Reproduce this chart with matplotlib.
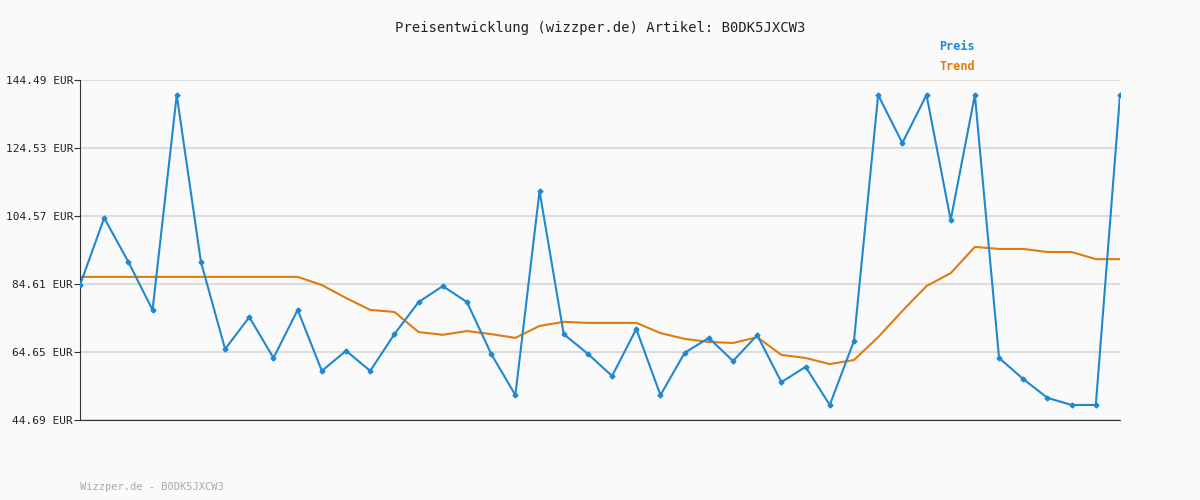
import matplotlib
matplotlib.use("Agg")
import matplotlib.pyplot as plt

# price history
preis = [84.3, 104.0, 91.1, 77.0, 140.1, 91.1, 65.5, 74.9, 62.9, 77.0,
         59.1, 65.0, 59.1, 69.9, 79.3, 84.0, 79.3, 64.1, 52.0, 111.9,
         69.9, 64.1, 57.6, 71.4, 52.0, 64.4, 68.8, 62.0, 69.6, 55.8,
         60.3, 49.1, 67.9, 140.1, 126.0, 140.1, 103.4, 140.1, 62.9, 56.7,
         51.2, 49.1, 49.1, 140.1]
trend = [86.7] * 10 + [84.3, 80.5, 77.0, 76.4, 70.5, 69.7, 70.8, 69.9, 68.8, 72.3,
                       73.5, 73.2, 73.2, 73.2, 70.2, 68.5, 67.6, 67.3, 69.0, 63.8,
                       62.9, 61.1, 62.3, 69.0, 76.7, 84.0, 87.8, 95.5, 94.9, 94.9,
                       94.0, 94.0, 91.9, 91.9]
yticks = [44.69, 64.65, 84.61, 104.57, 124.53, 144.49]

BG = "#fafafa"
BLUE = "#1f88cf"
ORANGE = "#e07b10"
plt.rcParams["font.family"] = "DejaVu Sans Mono"

fig = plt.figure(figsize=(12, 5), dpi=100, facecolor=BG)
ax = fig.add_axes([80 / 1200, 80 / 500, 1040 / 1200, 340 / 500], facecolor=BG)

x = list(range(len(preis)))
ax.plot(x, trend, color=ORANGE, linewidth=1.5, zorder=2)
ax.plot(x, preis, color=BLUE, linewidth=1.5, marker="D", markersize=2.5, zorder=3)

ax.set_xlim(0, len(preis) - 1)
ax.set_ylim(yticks[0], yticks[-1])
ax.set_yticks(yticks)
ax.set_yticklabels([f"{v:.2f} EUR" for v in yticks], fontsize=8, color="#222222")
ax.set_xticks([])
ax.grid(axis="y", color="#dddddd", linewidth=1.5)
ax.tick_params(axis="y", length=4, pad=1, color="#333333")
for side in ["top", "right"]:
    ax.spines[side].set_visible(False)
ax.spines["left"].set_color("#333333")
ax.spines["bottom"].set_color("#333333")

fig.text(0.5, 1 - 28 / 500, "Preisentwicklung (wizzper.de) Artikel: B0DK5JXCW3",
         ha="center", va="center", fontsize=10, color="#222222")
fig.text(957 / 1200, 1 - 47 / 500, "Preis", ha="center", va="center",
         fontsize=8.5, color=BLUE, fontweight="bold")
fig.text(957 / 1200, 1 - 67 / 500, "Trend", ha="center", va="center",
         fontsize=8.5, color=ORANGE, fontweight="bold")
fig.text(80 / 1200, 1 - 487 / 500, "Wizzper.de - B0DK5JXCW3", ha="left",
         va="center", fontsize=7.5, color="#aaaaaa")

fig.savefig("out.png", dpi=100, facecolor=BG)
